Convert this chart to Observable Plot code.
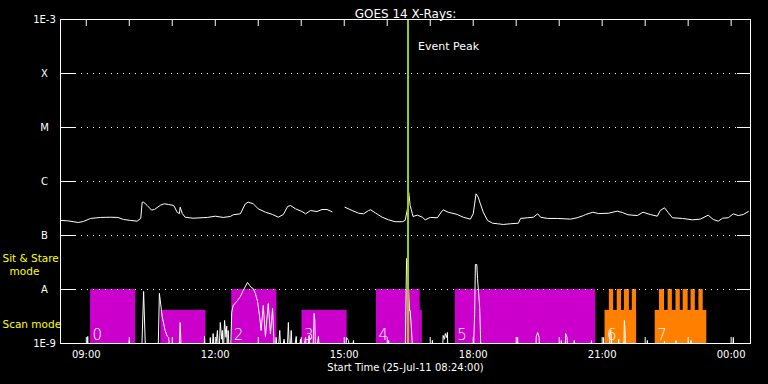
<!DOCTYPE html>
<html><head><meta charset="utf-8">
<script src="https://cdn.jsdelivr.net/npm/d3@7"></script>
<script src="https://cdn.jsdelivr.net/npm/@observablehq/plot@0.6"></script>
<style>html,body{margin:0;padding:0;background:#000;overflow:hidden}</style>
</head><body><div id="chart"></div>
<script>
// ---- Data (times HH:MM, 25-Jul-2011; hours before 08 belong to 26-Jul) ----
const xStart = "08:24", xEnd = "00:27";
const upperTimes = ["08:24","08:34","08:49","08:56","09:06","09:20","09:34","09:44","09:52","10:02","10:11","10:16","10:18","10:20","10:25","10:31","10:35","10:44","10:49","10:55","11:02","11:07","11:10","11:11","11:14","11:18","11:29","11:49","12:00","12:11","12:21","12:25","12:35","12:42","12:46","12:53","13:00","13:10","13:20","13:28","13:35","13:41","13:45","13:52","14:01","14:06","14:13","14:22","14:29","14:36","14:43","14:52","15:01","15:11","15:20","15:27","15:34","15:37","15:44","15:53","16:02","16:11","16:21","16:25","16:28","16:30","16:32","16:35","16:36","16:42","16:49","16:53","17:00","17:10","17:17","17:18","17:25","17:38","17:46","17:56","18:00","18:04","18:07","18:10","18:14","18:20","18:27","18:34","18:42","18:52","19:03","19:06","19:16","19:24","19:30","19:34","19:44","19:58","20:16","20:25","20:34","20:37","20:47","20:55","21:09","21:21","21:28","21:36","21:49","21:57","22:07","22:17","22:21","22:27","22:32","22:38","22:52","23:06","23:17","23:28","23:35","23:42","23:48","23:56","00:03","00:10","00:17","00:24"];
const upperFlux = [1.90e-7,1.87e-7,1.74e-7,1.82e-7,2.07e-7,2.16e-7,2.18e-7,2.16e-7,1.98e-7,1.90e-7,1.84e-7,2.07e-7,4.14e-7,4.14e-7,3.60e-7,2.96e-7,3.03e-7,3.67e-7,3.86e-7,3.75e-7,3.60e-7,2.67e-7,2.55e-7,3.34e-7,2.55e-7,2.18e-7,2.09e-7,2.16e-7,2.28e-7,2.16e-7,2.25e-7,2.42e-7,2.52e-7,3.86e-7,4.14e-7,3.86e-7,3.12e-7,2.70e-7,2.45e-7,2.18e-7,2.45e-7,3.44e-7,3.60e-7,3.12e-7,2.78e-7,2.52e-7,2.90e-7,2.78e-7,3.03e-7,3.03e-7,2.75e-7,null,3.34e-7,2.90e-7,2.59e-7,2.52e-7,2.90e-7,2.99e-7,2.59e-7,2.18e-7,1.95e-7,1.80e-7,1.80e-7,1.90e-7,3.0e-7,6.25e-7,3.60e-7,2.55e-7,2.25e-7,2.38e-7,2.18e-7,1.95e-7,2.16e-7,2.13e-7,2.90e-7,2.99e-7,2.70e-7,2.45e-7,2.18e-7,2.01e-7,2.52e-7,5.92e-7,5.12e-7,3.86e-7,2.70e-7,1.90e-7,1.69e-7,1.65e-7,1.60e-7,1.65e-7,1.69e-7,2.07e-7,2.13e-7,2.18e-7,2.52e-7,2.18e-7,2.07e-7,2.07e-7,2.01e-7,2.13e-7,2.34e-7,2.45e-7,2.70e-7,2.55e-7,2.59e-7,2.82e-7,2.67e-7,2.42e-7,2.34e-7,2.70e-7,2.45e-7,2.28e-7,2.90e-7,3.26e-7,2.67e-7,2.13e-7,2.07e-7,1.95e-7,2.01e-7,2.38e-7,1.98e-7,1.84e-7,2.09e-7,2.13e-7,2.52e-7,2.34e-7,2.45e-7,2.78e-7];

// short channel, mostly below the 1E-9 floor (5e-10 = off scale)
const lowTimes = ["08:24","09:01","09:02","09:03","09:59","10:00","10:01","10:17","10:20","10:23","10:40","10:42","10:46","10:50","10:53","10:55","10:57","11:09","11:11","11:13","11:44","11:45","11:46","11:52","11:53","11:55","11:57","11:59","12:03","12:05","12:07","12:09","12:10","12:11","12:13","12:15","12:16","12:17","12:18","12:20","12:21","12:23","12:25","12:31","12:35","12:39","12:45","12:48","12:50","12:53","12:56","12:59","13:02","13:04","13:07","13:10","13:14","13:17","13:20","13:23","13:25","13:27","13:30","13:32","13:36","13:40","13:42","13:44","13:46","13:48","13:53","13:55","13:59","14:01","14:06","14:08","14:11","14:13","14:16","14:18","14:19","14:20","14:24","14:26","15:02","15:03","15:06","15:08","15:13","15:14","16:01","16:02","16:03","16:25","16:27","16:28","16:31","16:32","16:34","16:36","17:02","17:03","17:04","17:17","17:18","17:20","17:21","17:23","17:24","17:25","18:00","18:02","18:03","18:05","18:06","18:09","18:10","18:11","19:01","19:02","19:03","19:27","19:28","19:30","19:32","19:33","20:02","20:03","20:04","20:08","20:09","20:11","20:12","20:20","20:21","20:22","20:44","20:45","20:46","21:01","21:02","21:03","21:10","21:11","21:12","21:13","21:14","21:22","21:23","21:24","21:30","21:31","21:32","21:33","22:02","22:03","22:04","22:26","22:27","22:28","22:42","22:43","22:44","23:03","23:04","23:05","00:02","00:03","00:04","00:27"];
const lowFlux = [5e-10,5e-10,1.35e-9,5e-10,5e-10,1.14e-9,5e-10,5e-10,9.2e-9,5e-10,5e-10,8.5e-9,3.1e-9,1.74e-9,1.35e-9,1.29e-9,5e-10,5e-10,2.45e-9,5e-10,5e-10,1.35e-9,5e-10,5e-10,1.29e-9,5e-10,1.53e-9,5e-10,1.74e-9,5e-10,2.45e-9,1.2e-9,1.74e-9,5e-10,2.67e-9,1.3e-9,2.1e-9,5e-10,1.74e-9,5e-10,5e-10,3.8e-9,5.06e-9,6.25e-9,7.4e-9,9.6e-9,1.35e-8,1.19e-8,1.09e-8,1.04e-8,8.4e-9,6.0e-9,3.07e-9,1.74e-9,5.06e-9,1.35e-9,5.5e-9,1.5e-9,4.45e-9,5e-10,1.3e-9,5e-10,1.74e-9,5e-10,1.2e-9,5e-10,2.45e-9,5e-10,1.74e-9,5e-10,1.35e-9,5e-10,1.2e-9,5e-10,1.3e-9,5e-10,1.41e-9,5e-10,5e-10,3.6e-9,2.67e-9,5e-10,1.35e-9,5e-10,5e-10,1.29e-9,1.14e-9,5e-10,1.14e-9,5e-10,5e-10,1.14e-9,5e-10,5e-10,3.75e-8,3.75e-8,4.1e-9,4.1e-9,1.7e-9,5e-10,5e-10,1.14e-9,5e-10,5e-10,1.41e-9,1.2e-9,1.53e-9,1.29e-9,1.6e-9,5e-10,5e-10,3.6e-9,2.9e-8,2.9e-8,1.6e-8,4.7e-9,1.74e-9,5e-10,5e-10,1.29e-9,5e-10,5e-10,1.35e-9,1.6e-9,1.29e-9,5e-10,5e-10,1.14e-9,5e-10,5e-10,1.53e-9,1.29e-9,5e-10,5e-10,1.14e-9,5e-10,5e-10,1.14e-9,5e-10,5e-10,1.29e-9,5e-10,5e-10,1.41e-9,1.74e-9,1.2e-9,5e-10,5e-10,1.2e-9,5e-10,5e-10,2.67e-9,1.6e-9,5e-10,5e-10,1.14e-9,5e-10,5e-10,1.1e-9,5e-10,5e-10,1.14e-9,5e-10,5e-10,1.14e-9,5e-10,5e-10,1.29e-9,5e-10,5e-10];

// observing-mode blocks: start, end, top level, colour
const modeStart = ["09:06","10:44","12:23","14:01","15:45","16:46","17:35","21:04","21:10","21:21","21:31","21:42","22:14","22:20","22:32","22:43","22:53","23:04","23:15"];
const modeEnd   = ["10:09","11:47","13:26","15:04","16:46","16:49","20:51","21:48","21:16","21:27","21:38","21:48","23:26","22:27","22:38","22:49","23:00","23:10","23:21"];
const modeTop   = [1e-8,4.1e-9,1e-8,4.1e-9,1e-8,4.1e-9,1e-8,4.1e-9,1e-8,1e-8,1e-8,1e-8,4.1e-9,1e-8,1e-8,1e-8,1e-8,1e-8,1e-8];
const modeColor = ["#cc00cc","#cc00cc","#cc00cc","#cc00cc","#cc00cc","#cc00cc","#cc00cc","#ff8000","#ff8000","#ff8000","#ff8000","#ff8000","#ff8000","#ff8000","#ff8000","#ff8000","#ff8000","#ff8000","#ff8000"];
const blockLabels = ["0","2","3","4","5","6","7"];
const blockLabelTimes = ["09:06","12:23","14:01","15:45","17:35","21:04","22:14"];

const eventPeakTime = "16:29";
const yTickValues = [1e-9,1e-8,1e-7,1e-6,1e-5,1e-4,1e-3];
const yTickLabels = ["1E-9","A","B","C","M","X","1E-3"];
const gridValues = [1e-8,1e-7,1e-6,1e-5,1e-4];
const xLabelTimes = ["09:00","12:00","15:00","18:00","21:00","00:00"];
const sideLabelsLeft = ["Sit & Stare","Scan mode"];
const sideLabelsLeftY = [3.67e-8,2.25e-9];
const sideLabelsCenter = ["mode"];
const sideLabelsCenterY = [2.15e-8];

// ---- helpers ----
function toDate(hm){const [h,m]=hm.split(":").map(Number);return new Date(Date.UTC(2011,6,h<8?26:25,h,m));}
const upper = upperTimes.map((t,i)=>({t:toDate(t),v:upperFlux[i]}));
const low = lowTimes.map((t,i)=>({t:toDate(t),v:lowFlux[i]}));
const modes = modeStart.map((s,i)=>({x1:toDate(s),x2:toDate(modeEnd[i]),top:modeTop[i],c:modeColor[i]}));
const blabels = blockLabels.map((l,i)=>({t:toDate(blockLabelTimes[i]),l}));
const peak = toDate(eventPeakTime);
const hourTicks = d3.utcHour.range(toDate("09:00"), new Date(Date.UTC(2011,6,26,0,1)));
const labelTicks = xLabelTimes.map(toDate);
const fmt = d3.utcFormat("%H:%M");
const ylab = new Map(yTickValues.map((v,i)=>[v,yTickLabels[i]]));
const sidesL = sideLabelsLeft.map((s,i)=>({s,y:sideLabelsLeftY[i]}));
const sidesC = sideLabelsCenter.map((s,i)=>({s,y:sideLabelsCenterY[i]}));

const chart = Plot.plot({
  width:768, height:384,
  marginLeft:60, marginRight:18, marginTop:19, marginBottom:41,
  style:{background:"#000",color:"#fff",fontFamily:"DejaVu Sans",fontSize:"10px"},
  x:{type:"utc",domain:[toDate(xStart),toDate(xEnd)]},
  y:{type:"log",domain:[1e-9,1e-3]},
  marks:[
    Plot.rect(modes,{x1:"x1",x2:"x2",y1:1e-9,y2:"top",fill:"c"}),
    Plot.text(blabels,{x:"t",text:"l",frameAnchor:"bottom",textAnchor:"start",lineAnchor:"bottom",dx:2,dy:-4,fill:"#fff",fontSize:15,fontWeight:200}),
    Plot.ruleY(gridValues,{stroke:"#fff",strokeDasharray:"1,5",insetLeft:15,insetRight:14}),
    Plot.axisY({anchor:"left",ticks:yTickValues,tickSize:-15,tickFormat:()=>"",label:null,stroke:"#fff"}),
    Plot.axisY({anchor:"right",ticks:yTickValues,tickSize:-14,tickFormat:()=>"",label:null,stroke:"#fff"}),
    Plot.axisY({anchor:"left",ticks:yTickValues,tickSize:0,tickPadding:16,textAnchor:"middle",tickFormat:d=>ylab.get(d),label:null,fill:"#fff",fontSize:10}),
    Plot.axisX({anchor:"bottom",ticks:hourTicks,tickSize:-6,tickFormat:()=>"",label:null,stroke:"#fff"}),
    Plot.axisX({anchor:"top",ticks:hourTicks,tickSize:-6,tickFormat:()=>"",label:null,stroke:"#fff"}),
    Plot.axisX({anchor:"bottom",ticks:labelTicks,tickSize:0,tickPadding:7,tickFormat:fmt,label:null,fill:"#fff",fontSize:10}),
    Plot.line(low,{x:"t",y:"v",stroke:"#fff",strokeWidth:1,clip:true}),
    Plot.line(upper,{x:"t",y:"v",stroke:"#fff",strokeWidth:1}),
    Plot.ruleX([peak],{stroke:"#a0cc00",strokeWidth:2}),
    Plot.text([peak],{x:d=>d,text:()=>"Event Peak",frameAnchor:"top",dy:23,dx:10,textAnchor:"start",fill:"#fff",fontSize:11}),
    Plot.text(sidesL,{y:"y",text:"s",frameAnchor:"left",textAnchor:"start",dx:-58,fill:"#ffff00",fontSize:10.5}),
    Plot.text(sidesC,{y:"y",text:"s",frameAnchor:"left",textAnchor:"middle",dx:-36,fill:"#ffff00",fontSize:10.5}),
    Plot.frame({stroke:"#fff"}),
    Plot.text(["GOES 14 X-Rays:"],{text:d=>d,frameAnchor:"top",dy:-10,fill:"#fff",fontSize:12}),
    Plot.text(["Start Time (25-Jul-11 08:24:00)"],{text:d=>d,frameAnchor:"bottom",dy:27,fill:"#fff",fontSize:10})
  ]
});
document.getElementById("chart").appendChild(chart);
</script></body></html>
